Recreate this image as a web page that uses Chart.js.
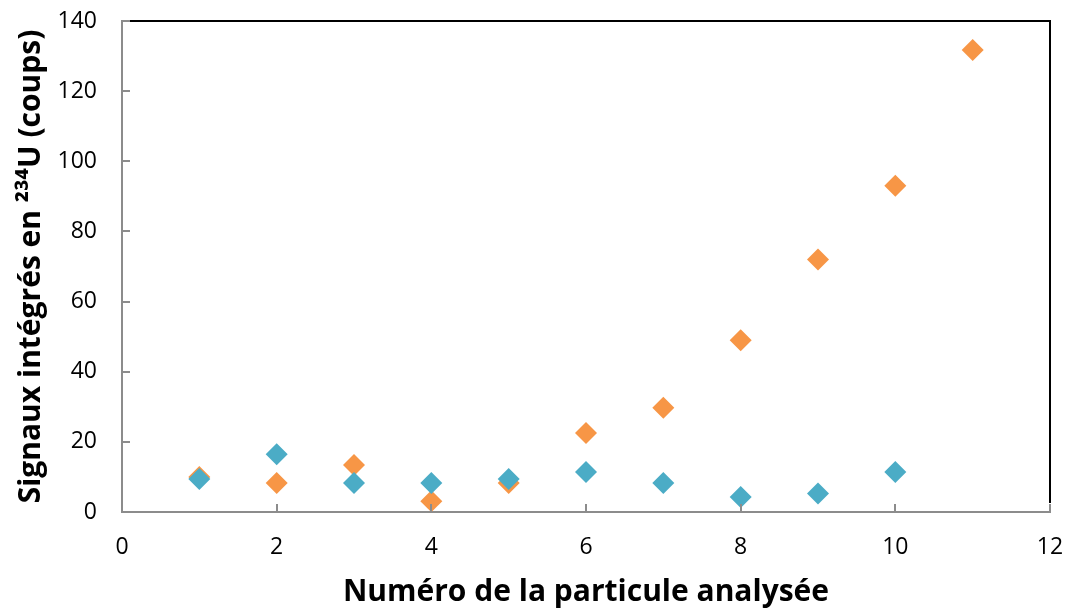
<!DOCTYPE html>
<html>
<head>
<meta charset="utf-8">
<script src="https://cdn.jsdelivr.net/npm/chart.js@4/dist/chart.umd.min.js"></script>
<style>
html,body{margin:0;padding:0;background:#fff;}
#c{display:block;}
</style>
</head>
<body>
<canvas id="c" width="1067" height="610"></canvas>
<script>
const particles = [1,2,3,4,5,6,7,8,9,10,11];
const orangeValues = [10, 8.3, 13.4, 3.1, 8.3, 22.5, 29.7, 49, 72, 93, 131.7];
const blueValues = [9.4, 16.5, 8.3, 8.3, 9.4, 11.4, 8.3, 4.3, 5.3, 11.4];
const xTitle = 'Numéro de la particule analysée';
const yTitle = 'Signaux intégrés en \u00B2\u00B3\u2074U (coups)';

const toPts = (vals) => vals.map((v, i) => ({x: particles[i], y: v}));

const frame = {
  id: 'frame',
  afterDraw(chart) {
    const {ctx, chartArea: a, scales} = chart;
    ctx.save();
    ctx.strokeStyle = '#8c8c8c';
    ctx.lineWidth = 2;
    scales.x.ticks.forEach(t => {
      const px = Math.round(scales.x.getPixelForValue(t.value));
      ctx.beginPath(); ctx.moveTo(px, a.bottom); ctx.lineTo(px, a.bottom - 8); ctx.stroke();
    });
    scales.y.ticks.forEach(t => {
      const py = Math.round(scales.y.getPixelForValue(t.value));
      ctx.beginPath(); ctx.moveTo(a.left, py); ctx.lineTo(a.left + 8, py); ctx.stroke();
    });
    ctx.strokeStyle = '#000';
    ctx.lineWidth = 2;
    ctx.beginPath();
    ctx.moveTo(a.left + 8, a.top);
    ctx.lineTo(a.right, a.top);
    ctx.lineTo(a.right, a.bottom - 9);
    ctx.stroke();
    ctx.restore();
  }
};

new Chart(document.getElementById('c'), {
  type: 'scatter',
  data: {
    datasets: [
      {label: 'B', data: toPts(blueValues), backgroundColor: '#4BACC6', borderColor: '#4BACC6',
       pointStyle: 'rectRot', pointRadius: 11, borderWidth: 0},
      {label: 'A', data: toPts(orangeValues), backgroundColor: '#F79646', borderColor: '#F79646',
       pointStyle: 'rectRot', pointRadius: 11, borderWidth: 0}
    ]
  },
  options: {
    responsive: false,
    animation: false,
    layout: {padding: {top: 21, right: 17, left: 0, bottom: 0}},
    plugins: {legend: {display: false}, tooltip: {enabled: false}},
    scales: {
      x: {
        type: 'linear', min: 0, max: 12,
        ticks: {stepSize: 2, color: '#000', padding: 22, font: {family: 'Open Sans', size: 23}},
        grid: {display: true, drawOnChartArea: false, drawTicks: false},
        border: {color: '#8c8c8c', width: 2},
        title: {display: true, text: xTitle, color: '#000', font: {family: 'Open Sans', size: 30, weight: 'bold'}, padding: {top: 4, bottom: 0}},
        afterFit(s) { s.height = 98; s.paddingLeft = 0; s.paddingRight = 0; }
      },
      y: {
        type: 'linear', min: 0, max: 140,
        ticks: {stepSize: 20, color: '#000', padding: 25, font: {family: 'Open Sans', size: 23}},
        grid: {display: true, drawOnChartArea: false, drawTicks: false},
        border: {color: '#8c8c8c', width: 2},
        title: {display: true, text: yTitle, color: '#000', font: {family: 'Open Sans', size: 30, weight: 'bold'}, padding: {top: 13, bottom: 0}},
        afterFit(s) { s.width = 122; s.paddingTop = 0; s.paddingBottom = 0; }
      }
    }
  },
  plugins: [frame]
});
</script>
</body>
</html>
